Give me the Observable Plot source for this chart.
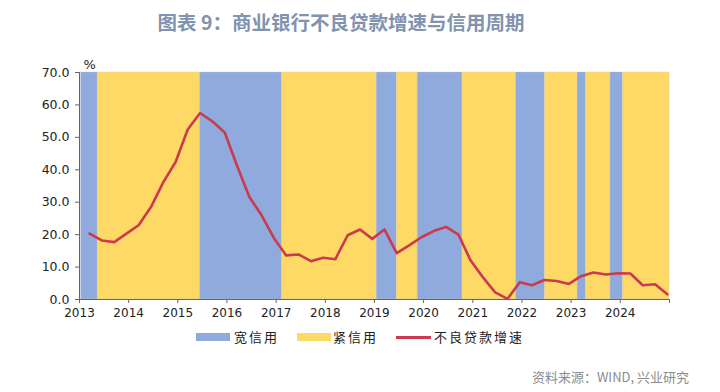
<!DOCTYPE html>
<html>
<head>
<meta charset="utf-8">
<script src="https://cdn.jsdelivr.net/npm/d3@7"></script>
<script src="https://cdn.jsdelivr.net/npm/@observablehq/plot@0.6"></script>
<style>
  html, body { margin: 0; padding: 0; background: #fff; }
  #wrap { width: 720px; height: 392px; position: relative; font-family: "DejaVu Sans", "Noto Sans CJK SC", sans-serif; }
  #title { position: absolute; left: 0; top: 9px; width: 682px; text-align: center; font-family: "Noto Sans CJK SC", sans-serif; font-weight: bold; font-size: 19.5px; color: #8193AE; line-height: 26px; }
  #chart { position: absolute; left: 0; top: 42px; }
  #legend { position: absolute; left: 0; top: 327px; width: 720px; font-family: "Noto Sans CJK SC", sans-serif; font-size: 13px; color: #222; }
  .sw { position: absolute; top: 6px; width: 34px; height: 8px; }
  .ln { position: absolute; top: 9px; width: 35px; height: 3px; }
  .lab { position: absolute; top: 0; white-space: nowrap; letter-spacing: 2px; line-height: 20px; }
  #caption { position: absolute; right: 31px; top: 367px; font-family: "Noto Sans CJK SC", sans-serif; font-size: 13px; color: #8C8C8C; }
</style>
</head>
<body>
<div id="wrap">
  <div id="title">图表 9：商业银行不良贷款增速与信用周期</div>
  <div id="chart"></div>
  <div id="legend"></div>
  <div id="caption">资料来源：WIND, 兴业研究</div>
</div>
<script>
// ---- data ----
const quarters = [
  "2013-03","2013-06","2013-09","2013-12",
  "2014-03","2014-06","2014-09","2014-12",
  "2015-03","2015-06","2015-09","2015-12",
  "2016-03","2016-06","2016-09","2016-12",
  "2017-03","2017-06","2017-09","2017-12",
  "2018-03","2018-06","2018-09","2018-12",
  "2019-03","2019-06","2019-09","2019-12",
  "2020-03","2020-06","2020-09","2020-12",
  "2021-03","2021-06","2021-09","2021-12",
  "2022-03","2022-06","2022-09","2022-12",
  "2023-03","2023-06","2023-09","2023-12",
  "2024-03","2024-06","2024-09","2024-12"
];
const nplGrowth = [
  20.3, 18.2, 17.7, 20.3,
  22.9, 28.5, 36.2, 42.4,
  52.4, 57.5, 54.9, 51.5,
  41.3, 31.6, 25.9, 18.9,
  13.6, 13.9, 11.8, 12.9,
  12.4, 19.8, 21.6, 18.7,
  21.6, 14.3, 16.7, 19.2,
  21.1, 22.4, 20.0, 12.0,
  6.9, 2.2, 0.2, 5.3,
  4.4, 6.0, 5.7, 4.8,
  7.2, 8.3, 7.7, 8.1,
  8.0, 4.4, 4.7, 1.6
];
// credit cycle periods
const bandStart = ["2013-01-13","2013-05-16","2015-06-16","2017-02-14","2019-01-18","2019-06-16","2019-11-18","2020-10-16","2021-11-18","2022-06-21","2023-02-18","2023-04-21","2023-10-21","2024-01-21"];
const bandEnd   = ["2013-05-16","2015-06-16","2017-02-14","2019-01-18","2019-06-16","2019-11-18","2020-10-16","2021-11-18","2022-06-21","2023-02-18","2023-04-21","2023-10-21","2024-01-21","2025-01-01"];
const bandType  = ["宽信用","紧信用","宽信用","紧信用","宽信用","紧信用","宽信用","紧信用","宽信用","紧信用","宽信用","紧信用","宽信用","紧信用"];
const yTicks = [0, 10, 20, 30, 40, 50, 60, 70];
const xYears = [2013, 2014, 2015, 2016, 2017, 2018, 2019, 2020, 2021, 2022, 2023, 2024, 2025];
const seriesNames = ["宽信用", "紧信用", "不良贷款增速"];

// ---- build ----
const colorOf = {"宽信用": "#8FAADC", "紧信用": "#FFD966"};
const lineColor = "#CB3A4E";

const bands = bandStart.map((s, i) => ({x1: new Date(s), x2: new Date(bandEnd[i]), type: bandType[i]}));
const pts = quarters.map((q, i) => {
  const [y, m] = q.split("-").map(Number);
  return {date: new Date(Date.UTC(y, m - 1, 16)), v: nplGrowth[i]};
});
const yearDates = xYears.map(y => new Date(Date.UTC(y, 0, 1)));

const plot = Plot.plot({
  width: 720,
  height: 281,
  marginLeft: 79,
  marginRight: 51,
  marginTop: 30,
  marginBottom: 24,
  style: {fontFamily: "DejaVu Sans, sans-serif", fontSize: "12px", color: "#222", background: "transparent"},
  x: {type: "utc", domain: [new Date(Date.UTC(2013,0,1)), new Date(Date.UTC(2025,0,1))]},
  y: {domain: [0, 70]},
  marks: [
    Plot.rect(bands, {x1: "x1", x2: "x2", y1: 0, y2: 70, fill: d => colorOf[d.type], stroke: "#C8C8C8", strokeWidth: 0.6, strokeOpacity: 0.6}),
    Plot.ruleX([new Date(Date.UTC(2013,0,1))], {stroke: "#666"}),
    Plot.ruleY([0], {stroke: "#666"}),
    Plot.line(pts, {x: "date", y: "v", stroke: lineColor, strokeWidth: 2.6, strokeLinejoin: "round"}),
    Plot.axisY({ticks: yTicks, tickFormat: d => d.toFixed(1), tickSize: 4, tickPadding: 6, stroke: "#666", label: null, fontSize: 12.5}),
    Plot.axisX({ticks: yearDates, tickFormat: d => d.getUTCFullYear() === 2025 ? "" : String(d.getUTCFullYear()), tickSize: 4, tickPadding: 5, stroke: "#666", label: null, fontSize: 12}),
    Plot.text(["%"], {frameAnchor: "top-left", dx: 4, dy: -13, fontSize: 13, fill: "#222"})
  ]
});
document.getElementById("chart").appendChild(plot);

// legend
const legend = document.getElementById("legend");
const legendLayout = [
  {name: seriesNames[0], sx: 196, tx: 234, kind: "sw", color: colorOf["宽信用"]},
  {name: seriesNames[1], sx: 297, tx: 333, kind: "sw", color: colorOf["紧信用"]},
  {name: seriesNames[2], sx: 396, tx: 434, kind: "ln", color: lineColor}
];
legendLayout.forEach(d => {
  const sw = document.createElement("div");
  sw.className = d.kind;
  sw.style.left = d.sx + "px";
  sw.style.background = d.color;
  legend.appendChild(sw);
  const lab = document.createElement("div");
  lab.className = "lab";
  lab.style.left = d.tx + "px";
  lab.textContent = d.name;
  legend.appendChild(lab);
});
</script>
</body>
</html>
